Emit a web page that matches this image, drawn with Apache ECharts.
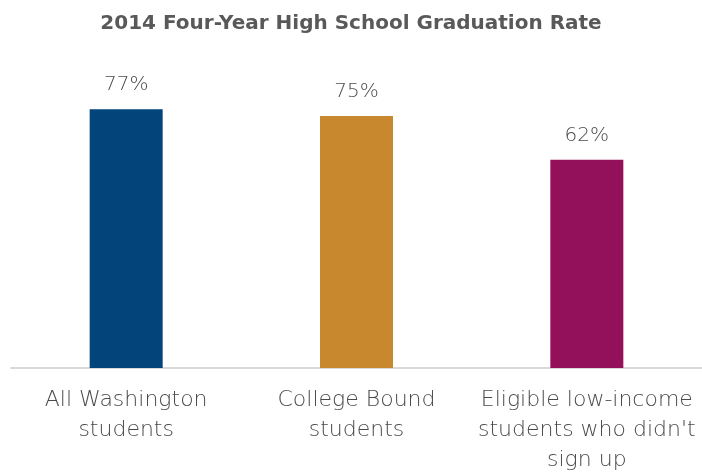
<!DOCTYPE html>
<html><head><meta charset="utf-8">
<script src="https://cdn.jsdelivr.net/npm/echarts@6/dist/echarts.min.js"></script>
<style>html,body{margin:0;padding:0;background:#fff}#c{width:702px;height:475px}</style>
</head><body><div id="c"></div>
<script>
const categories = ["All Washington\nstudents", "College Bound\nstudents", "Eligible low-income\nstudents who didn't\nsign up"];
const values = [77, 75, 62];
const colors = ["#03457b", "#c8892e", "#93105a"];
const chart = echarts.init(document.getElementById('c'));
chart.setOption({
  animation: false,
  title: {
    text: "2014 Four-Year High School Graduation Rate",
    left: 'center', top: 9,
    textStyle: {fontFamily: "DejaVu Sans", fontWeight: 'bold', fontSize: 20, color: '#595959'}
  },
  grid: {left: 11, right: -1, top: 32, bottom: 104},
  xAxis: {
    type: 'category', data: categories,
    axisLine: {lineStyle: {color: '#d9d9d9', width: 2}},
    axisTick: {show: false},
    axisLabel: {fontFamily: "DejaVu Sans", fontWeight: 200, fontSize: 22, color: '#4a4a4a', lineHeight: 30, margin: 17, interval: 0}
  },
  yAxis: {type: 'value', min: 0, max: 100, show: false, splitLine: {show: false}},
  series: [{
    type: 'bar', barWidth: 73,
    data: values.map((v, i) => ({value: v, itemStyle: {color: colors[i]}})),
    label: {show: true, position: 'top', distance: 14, formatter: '{c}%', fontFamily: "DejaVu Sans", fontWeight: 200, fontSize: 20, color: '#4a4a4a'}
  }]
});
</script></body></html>
